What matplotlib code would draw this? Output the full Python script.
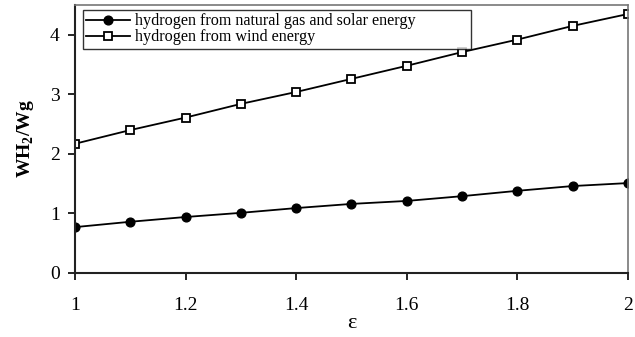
import matplotlib
matplotlib.use("Agg")
import matplotlib.pyplot as plt

eps = [1.0, 1.1, 1.2, 1.3, 1.4, 1.5, 1.6, 1.7, 1.8, 1.9, 2.0]
gas_solar = [0.77, 0.86, 0.94, 1.01, 1.09, 1.16, 1.21, 1.29, 1.38, 1.46, 1.51]
wind = [2.17, 2.40, 2.61, 2.84, 3.04, 3.26, 3.48, 3.71, 3.92, 4.15, 4.35]
xticks = [1, 1.2, 1.4, 1.6, 1.8, 2]
xtick_labels = ["1", "1.2", "1.4", "1.6", "1.8", "2"]
yticks = [0, 1, 2, 3, 4]

plt.rcParams['font.family'] = ['Liberation Serif', 'DejaVu Serif']
plt.rcParams['mathtext.fontset'] = 'custom'
plt.rcParams['mathtext.rm'] = 'Liberation Serif:bold'
plt.rcParams['mathtext.bf'] = 'Liberation Serif:bold'

fig = plt.figure(figsize=(6.35, 3.37), dpi=100)
ax = fig.add_axes([0.118, 0.19, 0.871, 0.795])

ax.plot(eps, gas_solar, color='black', lw=1.3, marker='o', ms=6.3,
        mfc='black', mec='black', label='hydrogen from natural gas and solar energy')
ax.plot(eps, wind, color='black', lw=1.3, marker='s', ms=6.3,
        mfc='white', mec='black', mew=1.3, label='hydrogen from wind energy')

ax.set_xlim(1, 2)
ax.set_ylim(0, 4.5)
ax.set_xticks(xticks)
ax.set_xticklabels(xtick_labels)
ax.set_yticks(yticks)
ax.tick_params(axis='both', direction='out', length=5, width=1.2, labelsize=14, color='black')
ax.tick_params(axis='x', pad=12)
ax.tick_params(axis='y', pad=6)
for s in ['left', 'bottom']:
    ax.spines[s].set_linewidth(1.5)
    ax.spines[s].set_color('#222222')
for s in ['top', 'right']:
    ax.spines[s].set_linewidth(1.2)
    ax.spines[s].set_color('#777777')

ax.set_xlabel('ε', fontsize=16, labelpad=0)
ax.set_ylabel('WH$_2$/Wg', fontsize=14, fontweight='bold', labelpad=10)

leg = ax.legend(loc='upper left', bbox_to_anchor=(0.0145, 0.0, 0.7016, 0.981),
                mode='expand', fontsize=11.6, frameon=True, fancybox=False,
                edgecolor='black', borderpad=0.2, handlelength=2.7,
                labelspacing=0.0, borderaxespad=0.0, handletextpad=0.35)
leg.get_frame().set_linewidth(1.0)

fig.savefig('out.png', dpi=100)
